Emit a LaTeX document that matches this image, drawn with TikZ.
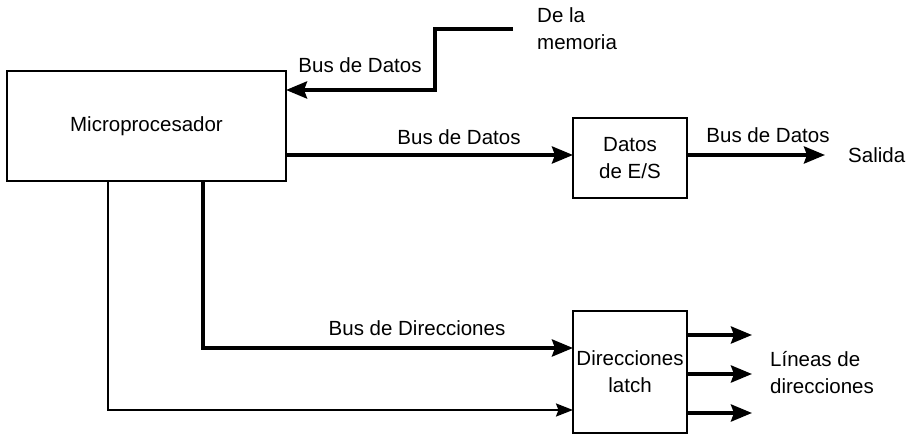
\documentclass[tikz,border=0pt]{standalone}
\usepackage{fontspec}
\setmainfont{Liberation Sans}
\usetikzlibrary{arrows.meta}
\begin{document}
\begin{tikzpicture}[x=1pt,y=-1pt,
  every node/.style={font=\fontsize{20.5}{27}\selectfont, inner sep=0pt},
  blockbox/.style={draw, line width=2.2pt, minimum width=114pt, align=center},
  thickbus/.style={line width=3.8pt, -{Stealth[length=21pt,width=17pt,inset=3pt]}},
  thinbus/.style={line width=2.3pt, -{Stealth[length=17pt,width=13pt,inset=2.5pt]}},
  lbl/.style={align=left}]
\useasboundingbox (0,0) rectangle (911,435);
% blocks
\node[blockbox, minimum width=279pt, minimum height=110pt] (micro) at (146.5,126) {Microprocesador};
\node[blockbox, minimum height=80pt] (datos) at (630,158) {Datos\\de E/S};
\node[blockbox, minimum height=122pt] (latch) at (630,372) {Direcciones\\latch};
% labels
\node (bd1) at (360,65) {Bus de Datos};
\node[lbl, anchor=west] (mem) at (537,28.5) {De la\\memoria};
\node (bd2) at (459,137) {Bus de Datos};
\node (bd3) at (768,135) {Bus de Datos};
\node[anchor=west] (sal) at (848,155) {Salida};
\node (bdir) at (417,328) {Bus de Direcciones};
\node[lbl, anchor=west] (lin) at (770,373) {Líneas de\\direcciones};
% coordinates
\coordinate (m0) at (513,29);
\coordinate (m1) at (435,29);
\coordinate (m2) at (435,90);
\coordinate (m3) at (286,90);
\coordinate (sEnd) at (825,155);
\coordinate (a0) at (203,181);
\coordinate (a1) at (203,348);
\coordinate (a2) at (573,348);
\coordinate (c0) at (108,181);
\coordinate (c1) at (108,410);
\coordinate (c2) at (573,410);
\coordinate (o1s) at (687,335);
\coordinate (o1e) at (752,335);
\coordinate (o2s) at (687,374);
\coordinate (o2e) at (752,374);
\coordinate (o3s) at (687,413);
\coordinate (o3e) at (752,413);
\coordinate (d0) at (286,155);
\coordinate (d1) at (573,155);
\coordinate (e0) at (687,155);
% connectors
\draw[thickbus] (m0) -- (m1) -- (m2) -- (m3);
\draw[thickbus] (d0) -- (d1);
\draw[thickbus] (e0) -- (sEnd);
\draw[thickbus] (a0) -- (a1) -- (a2);
\draw[thinbus] (c0) -- (c1) -- (c2);
\draw[thickbus] (o1s) -- (o1e);
\draw[thickbus] (o2s) -- (o2e);
\draw[thickbus] (o3s) -- (o3e);
\end{tikzpicture}
\end{document}
